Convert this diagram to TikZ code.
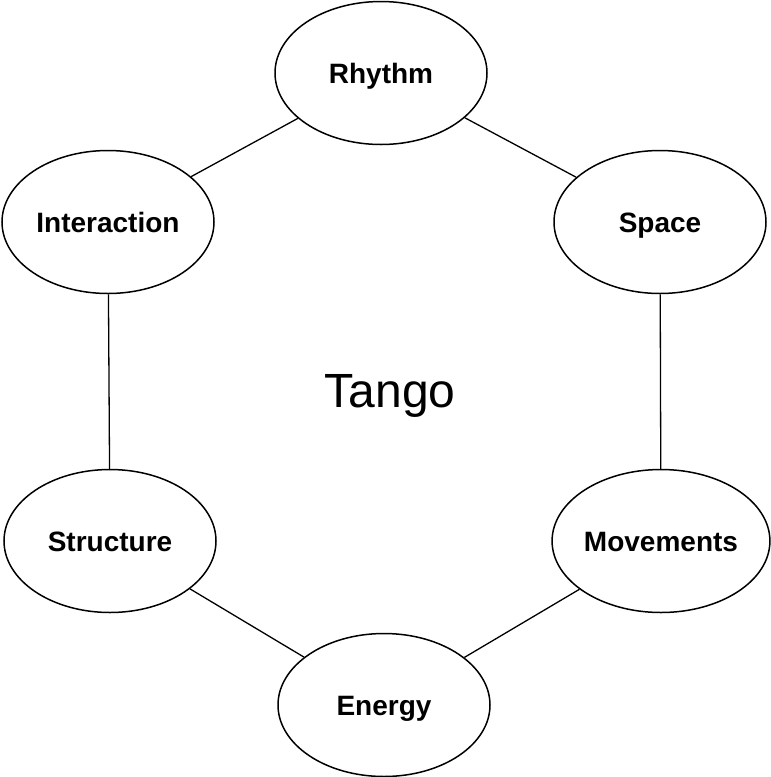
\documentclass[tikz,border=0pt]{standalone}
\usepackage{fontspec}
\setmainfont{Liberation Sans}
\usetikzlibrary{shapes.geometric}
\begin{document}
\begin{tikzpicture}[x=1pt,y=-1pt,
  topic/.style={ellipse,draw=black,line width=1.5pt,minimum width=212pt,minimum height=143pt,inner sep=0pt,
    text height=20pt,text depth=0pt,font=\fontsize{28}{32}\selectfont\bfseries},
  link/.style={draw=black,line width=1.3pt}]
\useasboundingbox (0,0) rectangle (771,777);
\node[topic] (rh) at (381,73) {Rhythm};
\node[topic] (in) at (108,222) {Interaction};
\node[topic] (sp) at (660,222) {Space};
\node[topic] (mo) at (661,541) {Movements};
\node[topic] (st) at (110,541) {Structure};
\node[topic] (en) at (384,705) {Energy};
\node[font=\fontsize{48}{56}\selectfont,text height=34pt,text depth=0pt] (ta) at (390,390) {Tango};
\draw[link] (rh) -- (in);
\draw[link] (rh) -- (sp);
\draw[link] (sp) -- (mo);
\draw[link] (in) -- (st);
\draw[link] (st) -- (en);
\draw[link] (mo) -- (en);
\end{tikzpicture}
\end{document}
